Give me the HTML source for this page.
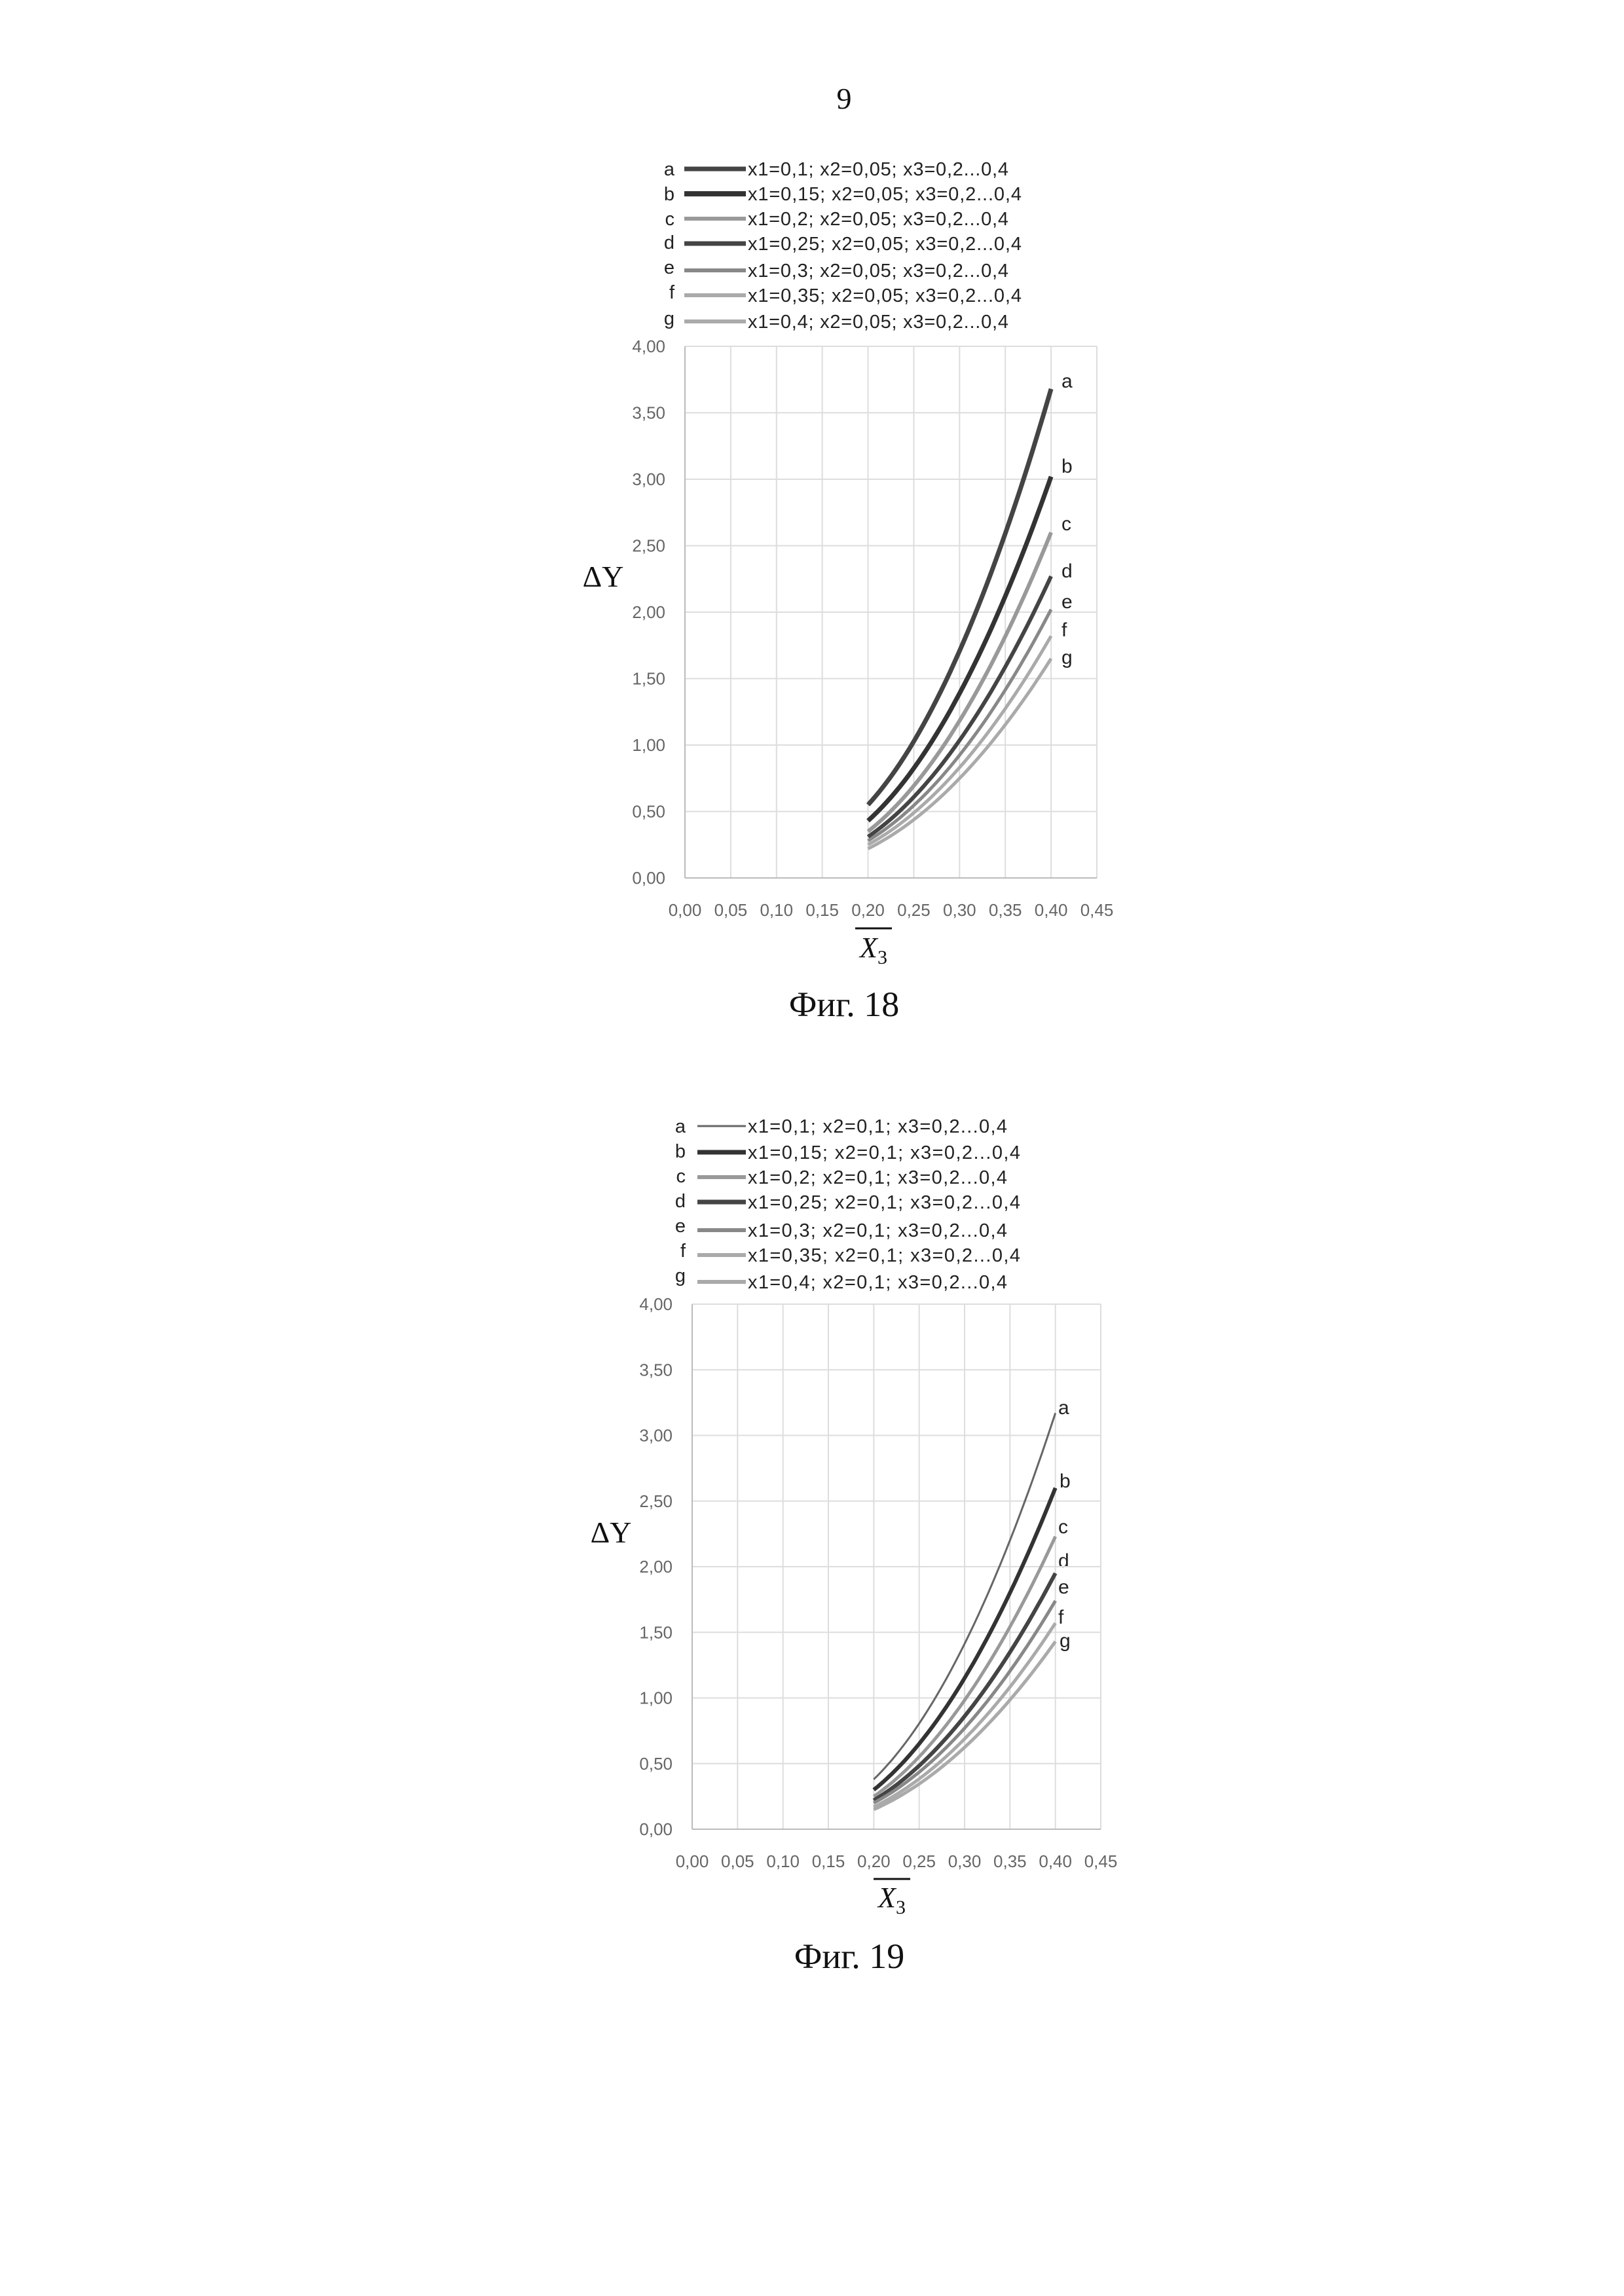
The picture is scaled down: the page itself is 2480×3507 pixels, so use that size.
<!DOCTYPE html>
<html><head><meta charset="utf-8">
<style>
html,body{margin:0;padding:0;background:#fff;}
svg{display:block;}
text{font-family:"Liberation Sans",sans-serif;}
.t{font-size:26px;fill:#666;}
.lg{font-size:29px;fill:#222;}
.ser{font-family:"Liberation Serif",serif;fill:#111;}
</style></head>
<body>
<svg id="s" width="2480" height="3507" viewBox="0 0 2480 3507" xmlns="http://www.w3.org/2000/svg">
<rect width="2480" height="3507" fill="#fff"/>
<text x="1289" y="166" class="ser" font-size="46" text-anchor="middle">9</text>

<!-- Chart 1 legend -->
<g class="lg">
<text x="1030" y="268" text-anchor="end">a</text><line x1="1045" y1="258" x2="1139" y2="258" stroke="#444" stroke-width="7"/><text x="1142" y="268" textLength="398">x1=0,1; x2=0,05; x3=0,2...0,4</text>
<text x="1030" y="306" text-anchor="end">b</text><line x1="1045" y1="296" x2="1139" y2="296" stroke="#333" stroke-width="8"/><text x="1142" y="306" textLength="418">x1=0,15; x2=0,05; x3=0,2...0,4</text>
<text x="1030" y="344" text-anchor="end">c</text><line x1="1045" y1="334" x2="1139" y2="334" stroke="#999" stroke-width="6"/><text x="1142" y="344" textLength="398">x1=0,2; x2=0,05; x3=0,2...0,4</text>
<text x="1030" y="380" text-anchor="end">d</text><line x1="1045" y1="372" x2="1139" y2="372" stroke="#444" stroke-width="7"/><text x="1142" y="382" textLength="418">x1=0,25; x2=0,05; x3=0,2...0,4</text>
<text x="1030" y="418" text-anchor="end">e</text><line x1="1045" y1="413" x2="1139" y2="413" stroke="#888" stroke-width="6"/><text x="1142" y="423" textLength="398">x1=0,3; x2=0,05; x3=0,2...0,4</text>
<text x="1030" y="456" text-anchor="end">f</text><line x1="1045" y1="451" x2="1139" y2="451" stroke="#aaa" stroke-width="6"/><text x="1142" y="461" textLength="418">x1=0,35; x2=0,05; x3=0,2...0,4</text>
<text x="1030" y="496" text-anchor="end">g</text><line x1="1045" y1="491" x2="1139" y2="491" stroke="#aaa" stroke-width="6"/><text x="1142" y="501" textLength="398">x1=0,4; x2=0,05; x3=0,2...0,4</text>
</g>
<!-- Chart 2 legend -->
<g class="lg">
<text x="1047" y="1730" text-anchor="end">a</text><line x1="1065" y1="1720" x2="1139" y2="1720" stroke="#666" stroke-width="3"/><text x="1142" y="1730" textLength="396">x1=0,1; x2=0,1; x3=0,2...0,4</text>
<text x="1047" y="1768" text-anchor="end">b</text><line x1="1065" y1="1760" x2="1139" y2="1760" stroke="#333" stroke-width="7"/><text x="1142" y="1770" textLength="416">x1=0,15; x2=0,1; x3=0,2...0,4</text>
<text x="1047" y="1806" text-anchor="end">c</text><line x1="1065" y1="1798" x2="1139" y2="1798" stroke="#999" stroke-width="6"/><text x="1142" y="1808" textLength="396">x1=0,2; x2=0,1; x3=0,2...0,4</text>
<text x="1047" y="1844" text-anchor="end">d</text><line x1="1065" y1="1836" x2="1139" y2="1836" stroke="#444" stroke-width="7"/><text x="1142" y="1846" textLength="416">x1=0,25; x2=0,1; x3=0,2...0,4</text>
<text x="1047" y="1882" text-anchor="end">e</text><line x1="1065" y1="1879" x2="1139" y2="1879" stroke="#888" stroke-width="6"/><text x="1142" y="1889" textLength="396">x1=0,3; x2=0,1; x3=0,2...0,4</text>
<text x="1047" y="1920" text-anchor="end">f</text><line x1="1065" y1="1917" x2="1139" y2="1917" stroke="#aaa" stroke-width="6"/><text x="1142" y="1927" textLength="416">x1=0,35; x2=0,1; x3=0,2...0,4</text>
<text x="1047" y="1958" text-anchor="end">g</text><line x1="1065" y1="1958" x2="1139" y2="1958" stroke="#aaa" stroke-width="6"/><text x="1142" y="1968" textLength="396">x1=0,4; x2=0,1; x3=0,2...0,4</text>
</g>

<!-- Chart 1 static labels -->
<text x="921" y="896" class="ser" font-size="46" text-anchor="middle">ΔY</text>
<text x="1334" y="1462" class="ser" font-size="44" font-style="italic" text-anchor="middle">X<tspan font-size="30" font-style="normal" dy="10">3</tspan></text>
<line x1="1306" y1="1418" x2="1362" y2="1418" stroke="#111" stroke-width="3"/>
<text x="1289" y="1552" class="ser" font-size="54" text-anchor="middle">Фиг. 18</text>
<g font-size="30" fill="#222">
<text x="1621" y="592">a</text><text x="1621" y="722">b</text><text x="1621" y="810">c</text><text x="1621" y="882">d</text><text x="1621" y="929">e</text><text x="1621" y="972">f</text><text x="1621" y="1014">g</text>
</g>

<!-- Chart 2 static labels -->
<text x="933" y="2356" class="ser" font-size="46" text-anchor="middle">ΔY</text>
<text x="1362" y="2913" class="ser" font-size="44" font-style="italic" text-anchor="middle">X<tspan font-size="30" font-style="normal" dy="10">3</tspan></text>
<line x1="1334" y1="2870" x2="1390" y2="2870" stroke="#111" stroke-width="3"/>
<text x="1297" y="3006" class="ser" font-size="54" text-anchor="middle">Фиг. 19</text>
<g font-size="30" fill="#222">
<text x="1616" y="2160">a</text><text x="1618" y="2272">b</text><text x="1616" y="2342">c</text><text x="1616" y="2394">d</text><text x="1616" y="2434">e</text><text x="1616" y="2480">f</text><text x="1618" y="2516">g</text>
</g>
<g id="dyn"></g>
</svg>
<script>
var NS="http://www.w3.org/2000/svg",g=document.getElementById("dyn");
function el(n,a,t){var e=document.createElementNS(NS,n);for(var k in a)e.setAttribute(k,a[k]);if(t!==undefined)e.textContent=t;g.appendChild(e);return e;}
function chart(c){
  var X=function(v){return c.x0+(c.x1-c.x0)*v/0.45;},Y=function(v){return c.y0-(c.y0-c.y1)*v/4;};
  for(var i=0;i<=9;i++){var xx=X(i*0.05);el("line",{x1:xx,y1:c.y1,x2:xx,y2:c.y0,stroke:"#ddd","stroke-width":2});
    el("text",{x:xx,y:c.y0+58,"class":"t","text-anchor":"middle"},(i*0.05).toFixed(2).replace(".",","));}
  for(var j=0;j<=8;j++){var yy=Y(j*0.5);el("line",{x1:c.x0,y1:yy,x2:c.x1,y2:yy,stroke:"#ddd","stroke-width":2});
    el("text",{x:c.lx,y:yy+9,"class":"t","text-anchor":"end"},(j*0.5).toFixed(2).replace(".",","));}
  el("line",{x1:c.x0,y1:c.y1,x2:c.x0,y2:c.y0,stroke:"#bbb","stroke-width":2});
  el("line",{x1:c.x0,y1:c.y0,x2:c.x1,y2:c.y0,stroke:"#bbb","stroke-width":2});
  c.s.forEach(function(s){
    var y0=s[0],y2=s[1],ym=y0+0.37*(y2-y0),d="";
    for(var t=0;t<=40;t++){var u=t/40;
      var v=y0*(1-u)*(1-2*u)*1+ym*4*u*(1-u)+y2*u*(2*u-1);
      d+=(t?"L":"M")+X(0.2+0.2*u).toFixed(1)+" "+Y(v).toFixed(1);}
    el("path",{d:d,fill:"none",stroke:s[2],"stroke-width":s[3]});});
}
chart({x0:1046,x1:1675,y0:1341,y1:529,lx:1016,s:[
 [0.55,3.68,"#444",7],[0.43,3.02,"#333",7],[0.35,2.6,"#999",6],[0.31,2.27,"#444",6],[0.28,2.02,"#888",5],[0.25,1.82,"#aaa",5],[0.22,1.65,"#aaa",5]]});
chart({x0:1057,x1:1681,y0:2794,y1:1992,lx:1027,s:[
 [0.38,3.17,"#666",3],[0.3,2.6,"#333",6],[0.25,2.23,"#999",5],[0.22,1.95,"#444",6],[0.2,1.74,"#888",5],[0.17,1.57,"#aaa",5],[0.15,1.43,"#aaa",5]]});
</script>
</body></html>
